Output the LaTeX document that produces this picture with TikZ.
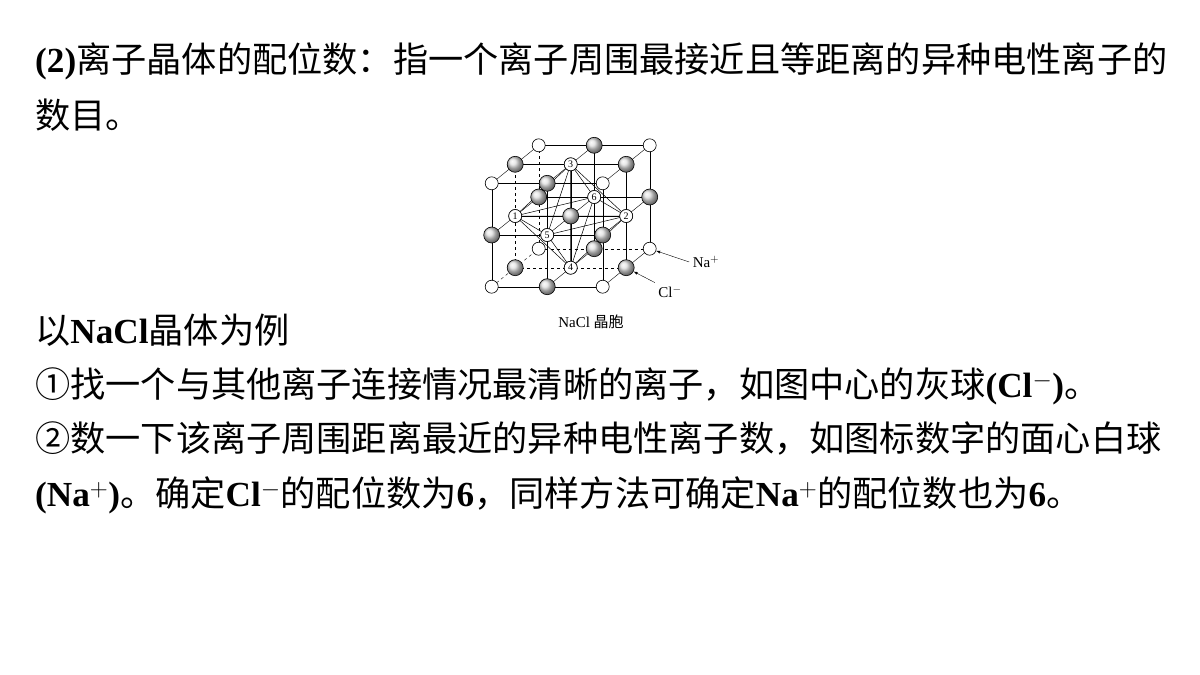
\documentclass[tikz,border=0pt]{standalone}
\usepackage{fontspec}
\setmainfont{Liberation Serif}
\newfontfamily\cjk{Noto Sans CJK SC}
\newcommand{\lt}[1]{{\rmfamily\bfseries #1}}
\begin{document}
\begin{tikzpicture}[x=1pt,y=-1pt,
  line/.style={anchor=base west,inner sep=0pt,font=\fontsize{35.2}{35.2}\selectfont\cjk},
  na/.style={circle,draw,fill=white,minimum size=13pt,inner sep=0pt,line width=0.6pt},
  cl/.style={circle,draw,ball color=gray!25,minimum size=16pt,inner sep=0pt,line width=0.6pt},
  num/.style={na,font=\fontsize{10}{10}\selectfont\rmfamily}]
\useasboundingbox (0,0) rectangle (1200,675);
% text
\node[line] (t1) at (35,72) {\lt{(2)}离子晶体的配位数：指一个离子周围最接近且等距离的异种电性离子的};
\node[line] (t2) at (35,128) {数目。};
\node[line] (t3) at (35,343) {以\lt{NaCl}晶体为例};
\node[line] (t4) at (35,397) {①找一个与其他离子连接情况最清晰的离子，如图中心的灰球\lt{(Cl$^{-}$)}。};
\node[line] (t5) at (35,451) {②数一下该离子周围距离最近的异种电性离子数，如图标数字的面心白球};
\node[line] (t6) at (35,506) {\lt{(Na$^{+}$)}。确定\lt{Cl$^{-}$}的配位数为\lt{6}，同样方法可确定\lt{Na$^{+}$}的配位数也为\lt{6}。};
% lattice points
\foreach \i in {0,1,2}
  \foreach \j in {0,1,2}
    \foreach \k in {0,1,2}
      \coordinate (p\i\j\k) at ({491.7+55.5*\i+23.5*\j},{286.7-51.7*\k-19*\j});
% grid lines
\foreach \a in {0,1,2}
  \foreach \b in {0,1,2} {
    \ifnum\a>0 \ifnum\b=0 \draw[dashed] (p0\a\b) -- (p2\a\b); \else \draw (p0\a\b) -- (p2\a\b); \fi
    \else \draw (p0\a\b) -- (p2\a\b); \fi
    \ifnum\a=0 \ifnum\b>0 \draw[dashed] (p\a\b0) -- (p\a\b2); \else \draw (p\a\b0) -- (p\a\b2); \fi
    \else \draw (p\a\b0) -- (p\a\b2); \fi
    \ifnum\a=0 \ifnum\b=0 \draw[dashed] (p\a0\b) -- (p\a2\b); \else \draw (p\a0\b) -- (p\a2\b); \fi
    \else \draw (p\a0\b) -- (p\a2\b); \fi
  }
% octahedron
\draw[line width=0.5pt] (p011) -- (p112) -- (p211) -- (p110) -- cycle
  (p011) -- (p101) -- (p211) -- (p121) -- cycle
  (p112) -- (p101) -- (p110) -- (p121) -- cycle
  (p011) -- (p211) (p112) -- (p110);
% ions
\foreach \i in {0,1,2}
  \foreach \j in {2,1,0}
    \foreach \k in {0,1,2} {
      \pgfmathtruncatemacro\s{mod(\i+\j+\k,2)}
      \ifnum\s=1 \node[cl] (n\i\j\k) at (p\i\j\k) {};
      \else \node[na] (n\i\j\k) at (p\i\j\k) {}; \fi
    }
\node[num] (o1) at (p011) {1};
\node[num] (o2) at (p211) {2};
\node[num] (o3) at (p112) {3};
\node[num] (o4) at (p110) {4};
\node[num] (o5) at (p101) {5};
\node[num] (o6) at (p121) {6};
% labels
\node[font=\fontsize{15}{15}\selectfont\rmfamily] (na) at (706,262) {Na$^{+}$};
\node[font=\fontsize{15}{15}\selectfont\rmfamily] (cl) at (670,292) {Cl$^{-}$};
\draw[-latex] (na.west) -- (n220);
\draw[-latex] (cl.north west) -- (n210);
\node[font=\fontsize{15}{15}\selectfont\rmfamily] (cap) at (591,322) {NaCl {\cjk 晶胞}};
\end{tikzpicture}
\end{document}
